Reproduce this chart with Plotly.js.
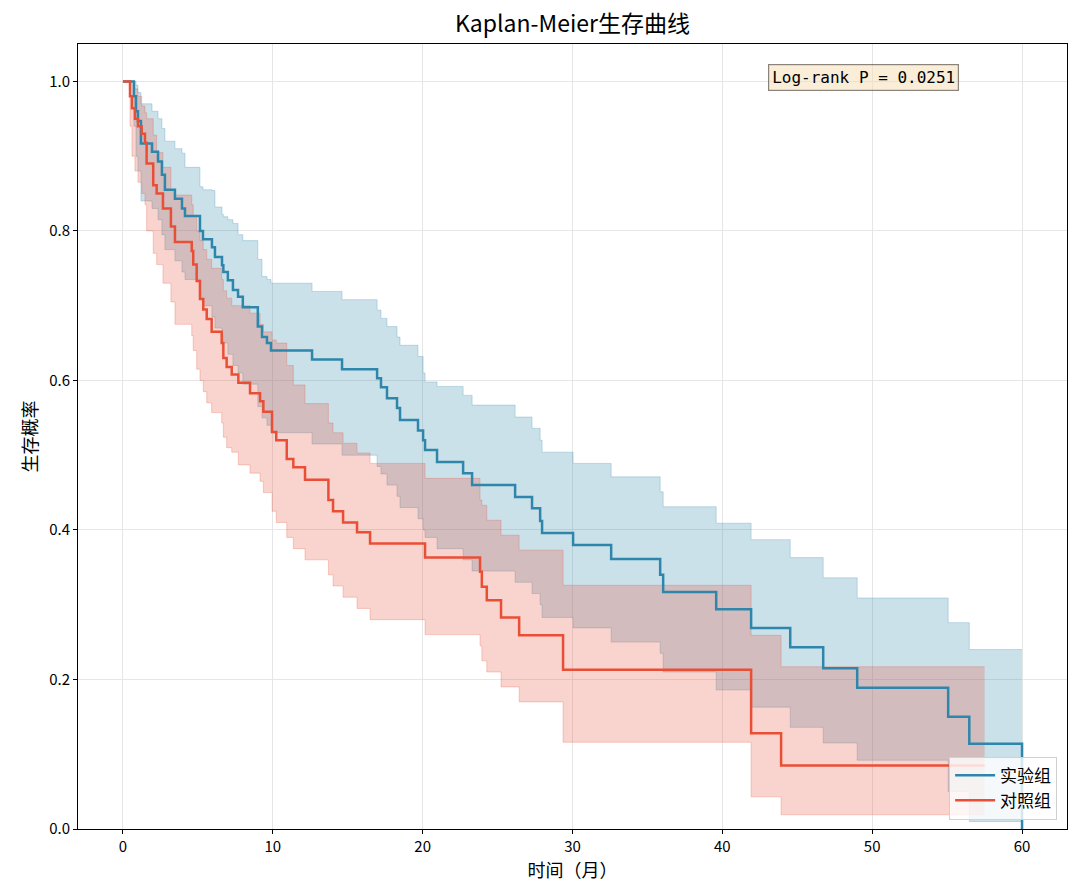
<!DOCTYPE html>
<html><head><meta charset="utf-8">
<script src="https://cdn.plot.ly/plotly-3.0.1.min.js"></script>
<style>body{margin:0;background:#fff}#chart{width:1080px;height:896px}</style>
</head><body><div id="chart"></div>
<script>
// 实验组 (experimental group)
const expTime = [0, 0.73, 0.87, 1.0, 1.2, 1.94, 2.34, 2.6, 2.8, 3.47, 3.94, 4.14, 5.14, 5.34, 5.94, 6.14, 6.61, 6.7, 7.0, 7.34, 7.68, 8.0, 9.0, 9.28, 9.61, 9.88, 12.62, 14.62, 16.96, 17.22, 17.62, 18.29, 18.49, 19.69, 20.03, 20.16, 20.96, 22.7, 23.3, 26.17, 27.3, 27.84, 27.97, 30.04, 32.58, 35.85, 36.05, 39.59, 41.92, 44.53, 46.73, 49.0, 55.07, 56.48, 60];
const expSurv = [1, 0.98, 0.96, 0.947, 0.917, 0.906, 0.893, 0.875, 0.855, 0.843, 0.83, 0.82, 0.80, 0.789, 0.778, 0.765, 0.754, 0.745, 0.734, 0.721, 0.712, 0.698, 0.672, 0.658, 0.65, 0.64, 0.628, 0.615, 0.603, 0.591, 0.576, 0.563, 0.547, 0.533, 0.52, 0.507, 0.491, 0.476, 0.46, 0.444, 0.429, 0.412, 0.396, 0.38, 0.361, 0.34, 0.317, 0.294, 0.269, 0.243, 0.215, 0.189, 0.15, 0.114, 0];
const expUpper = [1, 1.0, 0.995, 0.985, 0.97, 0.96, 0.95, 0.937, 0.92, 0.91, 0.904, 0.885, 0.859, 0.855, 0.854, 0.832, 0.822, 0.819, 0.815, 0.81, 0.795, 0.787, 0.762, 0.739, 0.735, 0.73, 0.719, 0.708, 0.694, 0.683, 0.672, 0.658, 0.647, 0.632, 0.61, 0.598, 0.592, 0.58, 0.567, 0.551, 0.536, 0.52, 0.504, 0.489, 0.471, 0.451, 0.431, 0.409, 0.387, 0.363, 0.336, 0.309, 0.276, 0.24, null];
const expLower = [1, 0.94, 0.90, 0.88, 0.84, 0.83, 0.815, 0.795, 0.775, 0.76, 0.745, 0.735, 0.71, 0.70, 0.685, 0.67, 0.66, 0.65, 0.635, 0.62, 0.61, 0.595, 0.565, 0.55, 0.54, 0.53, 0.515, 0.50, 0.485, 0.475, 0.46, 0.445, 0.43, 0.415, 0.40, 0.39, 0.375, 0.36, 0.345, 0.33, 0.315, 0.30, 0.283, 0.269, 0.25, 0.235, 0.21, 0.186, 0.163, 0.136, 0.115, 0.092, 0.05, 0.01, null];

// 对照组 (control group)
const ctrlTime = [0, 0.47, 0.6, 0.8, 1.0, 1.25, 1.47, 1.58, 2.02, 2.25, 2.67, 3.2, 3.47, 4.59, 4.69, 4.92, 5.14, 5.36, 5.59, 5.92, 6.59, 6.7, 6.92, 7.26, 7.7, 8.48, 9.15, 9.37, 9.95, 10.23, 10.93, 11.37, 12.15, 13.71, 14.02, 14.69, 15.62, 16.49, 20.16, 23.83, 23.95, 24.28, 25.23, 26.44, 29.37, 41.92, 43.92, 57.5];
const ctrlSurv = [1, 0.98, 0.964, 0.95, 0.94, 0.93, 0.918, 0.89, 0.861, 0.85, 0.83, 0.806, 0.785, 0.773, 0.755, 0.733, 0.709, 0.695, 0.682, 0.665, 0.65, 0.63, 0.618, 0.608, 0.597, 0.583, 0.572, 0.558, 0.531, 0.52, 0.495, 0.484, 0.467, 0.44, 0.425, 0.41, 0.397, 0.382, 0.363, 0.344, 0.324, 0.306, 0.283, 0.259, 0.213, 0.128, 0.085, 0.085];
const ctrlUpper = [1, 1.0, 0.995, 0.99, 0.98, 0.967, 0.958, 0.95, 0.928, 0.905, 0.885, 0.855, 0.848, 0.835, 0.82, 0.80, 0.787, 0.775, 0.762, 0.75, 0.735, 0.72, 0.71, 0.70, 0.70, 0.69, 0.675, 0.665, 0.654, 0.65, 0.62, 0.594, 0.569, 0.543, 0.53, 0.516, 0.503, 0.489, 0.469, 0.44, 0.433, 0.413, 0.393, 0.373, 0.326, 0.259, 0.217, 0.217];
const ctrlLower = [1, 0.94, 0.90, 0.88, 0.865, 0.85, 0.835, 0.80, 0.77, 0.755, 0.73, 0.705, 0.675, 0.66, 0.64, 0.615, 0.60, 0.585, 0.57, 0.557, 0.543, 0.524, 0.51, 0.504, 0.487, 0.476, 0.465, 0.45, 0.425, 0.41, 0.39, 0.375, 0.36, 0.34, 0.325, 0.31, 0.295, 0.28, 0.26, 0.245, 0.225, 0.21, 0.19, 0.17, 0.116, 0.043, 0.019, 0.019];

const groupNames = ['实验组', '对照组'];
const pText = 'Log-rank P = 0.0251';
const xTicks = [0, 10, 20, 30, 40, 50, 60];
const yTicks = [0, 0.2, 0.4, 0.6, 0.8, 1.0];

const blue = '#2E86AB', red = '#E94F37';
const FONT = '"Noto Sans CJK SC", "DejaVu Sans", sans-serif';

// fill band arrays: a missing final CI value keeps the previous one so the step band ends at the last time
function fillGaps(a){ const r=[]; let last=null; for(const v of a){ if(v===null||v===undefined){r.push(last);} else {r.push(v); last=v;} } return r; }

function bandTraces(t, lo, hi, rgb){
  return [
    {x:t, y:fillGaps(hi), type:'scatter', mode:'lines', line:{shape:'hv', width:1, color:`rgba(${rgb},0.25)`}, showlegend:false, hoverinfo:'skip'},
    {x:t, y:fillGaps(lo), type:'scatter', mode:'lines', line:{shape:'hv', width:1, color:`rgba(${rgb},0.25)`}, fill:'tonexty', fillcolor:`rgba(${rgb},0.25)`, showlegend:false, hoverinfo:'skip'}
  ];
}

const traces = [
  ...bandTraces(expTime, expLower, expUpper, '46,134,171'),
  ...bandTraces(ctrlTime, ctrlLower, ctrlUpper, '233,79,55'),
  {x:expTime, y:expSurv, type:'scatter', mode:'lines', name:groupNames[0], line:{shape:'hv', width:2.5, color:blue}},
  {x:ctrlTime, y:ctrlSurv, type:'scatter', mode:'lines', name:groupNames[1], line:{shape:'hv', width:2.5, color:red}}
];

const axisCommon = {showline:true, mirror:true, linecolor:'#000', linewidth:1, ticks:'outside', ticklen:4, tickcolor:'#000', showgrid:true, gridcolor:'#e6e6e6', gridwidth:1, zeroline:false, tickfont:{family:FONT, size:15, color:'#000'}};

const layout = {
  width:1080, height:896,
  margin:{l:78, r:13, t:44, b:67},
  paper_bgcolor:'#fff', plot_bgcolor:'#fff',
  font:{family:FONT, color:'#000'},
  title:{text:'Kaplan-Meier生存曲线', font:{family:FONT, size:23, color:'#000'}, x:0.5, xref:'paper', xanchor:'center', y:1-24/896, yref:'container', yanchor:'middle'},
  xaxis:Object.assign({}, axisCommon, {range:[-3,63], tickvals:xTicks, ticktext:xTicks.map(String), title:{text:'时间（月）', font:{family:FONT, size:18}, standoff:4}}),
  yaxis:Object.assign({}, axisCommon, {range:[0,1.05], tickvals:yTicks, ticktext:yTicks.map(v=>v.toFixed(1)), title:{text:'生存概率', font:{family:FONT, size:18}, standoff:6}}),
  legend:{x:0.99, xanchor:'right', y:0.012, yanchor:'bottom', traceorder:'normal', bgcolor:'rgba(255,255,255,0.8)', bordercolor:'#d0d0d0', borderwidth:1, font:{family:FONT, size:17}, itemwidth:40, tracegroupgap:0},
  annotations:[{text:pText, xref:'paper', yref:'paper', x:(863-78)/989, y:(829-77)/785, xanchor:'center', yanchor:'middle', showarrow:false, font:{family:'"DejaVu Sans Mono", monospace', size:16, color:'#000'}, bgcolor:'rgba(245,222,179,0.5)', bordercolor:'rgba(90,80,70,0.7)', borderwidth:1.2, borderpad:3}]
};

Plotly.newPlot('chart', traces, layout, {displayModeBar:false, staticPlot:true});
</script>
</body></html>
